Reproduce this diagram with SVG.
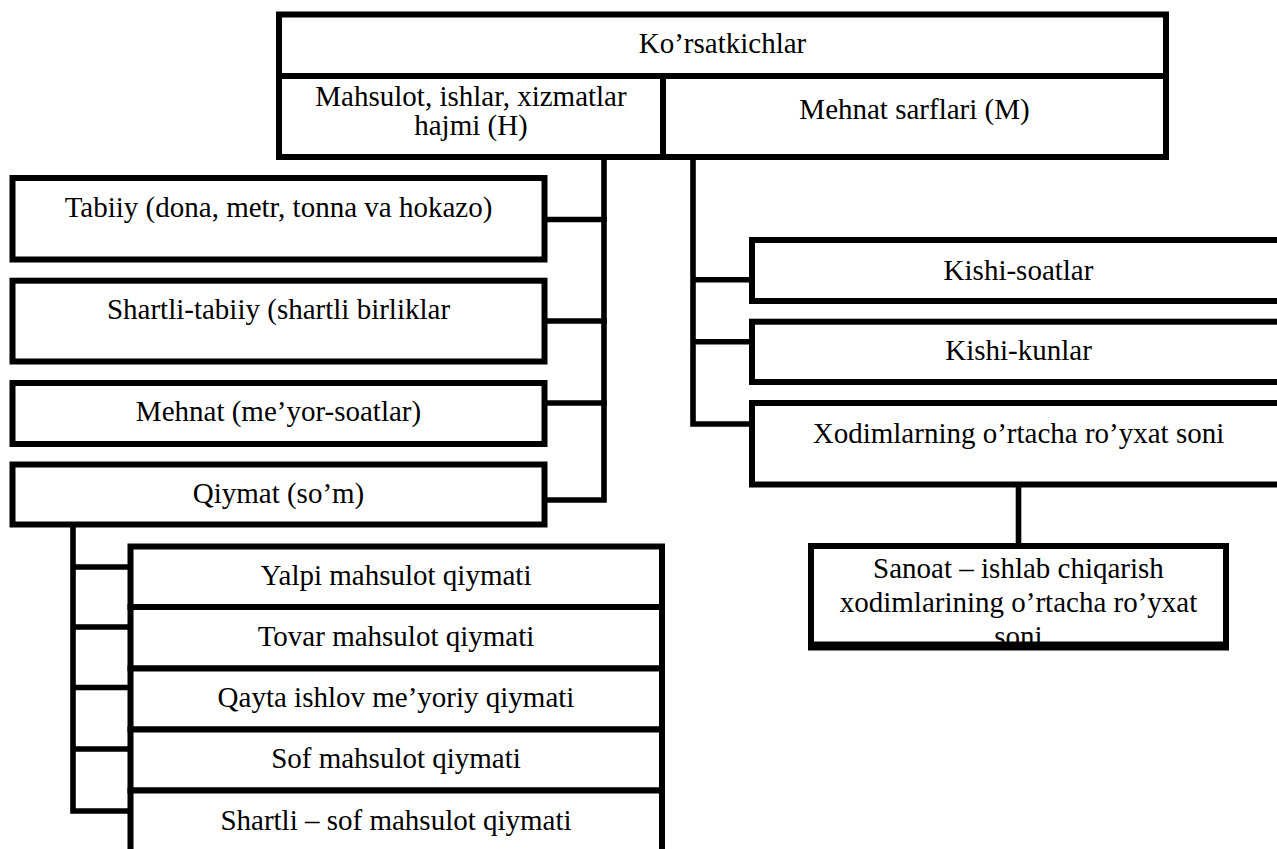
<svg xmlns="http://www.w3.org/2000/svg" width="1277" height="849" viewBox="0 0 1277 849">
<style>
.box{fill:#fff;stroke:#000;stroke-width:6}
.ln{fill:none;stroke:#000;stroke-width:5.6;stroke-linecap:square}
text{font-family:"Liberation Serif","Times New Roman",serif;font-size:29px;fill:#000;text-anchor:middle}
</style>
<rect width="1277" height="849" fill="#fff"/>
<g id="connectors">
<path class="ln" d="M604,160 V500 H544"/>
<path class="ln" d="M544,219.5 H604 M544,321 H604 M544,403 H604"/>
<path class="ln" d="M693,160 V424 H752 M693,279.7 H752 M693,341.7 H752"/>
<path class="ln" d="M73,527 V811 H130 M73,567 H130 M73,627 H130 M73,687.5 H130 M73,749 H130"/>
<path class="ln" d="M1018.5,487 V546"/>
</g>
<g id="n-korsatkichlar"><rect class="box" x="279" y="14.5" width="887" height="61.5"/><text x="722.5" y="53">Ko’rsatkichlar</text></g>
<g id="n-mahsulot"><rect class="box" x="279" y="76" width="384" height="81"/><text x="471" y="106">Mahsulot, ishlar, xizmatlar</text><text x="471" y="135">hajmi (H)</text></g>
<g id="n-mehnat-sarflari"><rect class="box" x="663" y="76" width="503" height="81"/><text x="914.5" y="119">Mehnat sarflari (M)</text></g>
<g id="n-tabiiy"><rect class="box" x="12.5" y="178" width="532" height="81.5"/><text x="278.5" y="217">Tabiiy (dona, metr, tonna va hokazo)</text></g>
<g id="n-shartli-tabiiy"><rect class="box" x="12.5" y="280.7" width="532" height="80.8"/><text x="278.5" y="319">Shartli-tabiiy (shartli birliklar</text></g>
<g id="n-mehnat"><rect class="box" x="12.5" y="383" width="532" height="61"/><text x="278.5" y="421">Mehnat (me’yor-soatlar)</text></g>
<g id="n-qiymat"><rect class="box" x="12.5" y="464.5" width="532" height="60"/><text x="278.5" y="503">Qiymat (so’m)</text></g>
<g id="n-yalpi"><rect class="box" x="130.5" y="546.5" width="531.5" height="60.5"/><text x="396" y="585">Yalpi mahsulot qiymati</text></g>
<g id="n-tovar"><rect class="box" x="130.5" y="607" width="531.5" height="61.5"/><text x="396" y="645.5">Tovar mahsulot qiymati</text></g>
<g id="n-qayta"><rect class="box" x="130.5" y="668.5" width="531.5" height="61"/><text x="396" y="707">Qayta ishlov me’yoriy qiymati</text></g>
<g id="n-sof"><rect class="box" x="130.5" y="729.5" width="531.5" height="61"/><text x="396" y="768">Sof mahsulot qiymati</text></g>
<g id="n-shartli-sof"><rect class="box" x="130.5" y="790.5" width="531.5" height="80"/><text x="396" y="830">Shartli – sof mahsulot qiymati</text></g>
<g id="n-kishi-soatlar"><rect class="box" x="752" y="240" width="540" height="61"/><text x="1018.5" y="280">Kishi-soatlar</text></g>
<g id="n-kishi-kunlar"><rect class="box" x="752" y="321.7" width="540" height="60.3"/><text x="1018.5" y="360">Kishi-kunlar</text></g>
<g id="n-xodimlar"><rect class="box" x="752" y="403" width="540" height="81.5"/><text x="1018.5" y="443">Xodimlarning o’rtacha ro’yxat soni</text></g>
<g id="n-sanoat"><rect class="box" x="811" y="546" width="415" height="101.5"/><text x="1018.5" y="578">Sanoat – ishlab chiqarish</text><text x="1018.5" y="612">xodimlarining o’rtacha ro’yxat</text><text x="1018.5" y="646">soni</text><path d="M814,644.5 H1223" stroke="#000" stroke-width="6"/></g>
</svg>
